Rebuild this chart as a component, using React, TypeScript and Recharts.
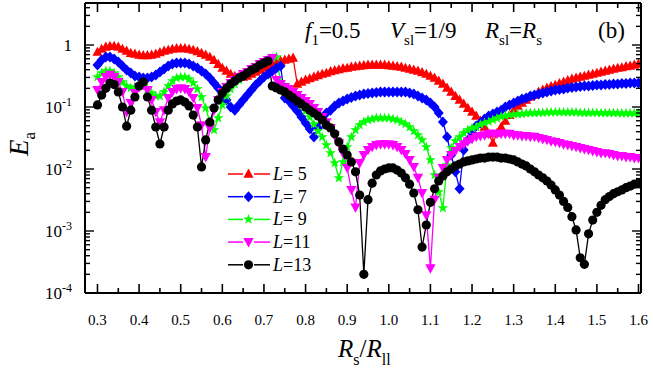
import { LineChart, Line, XAxis, YAxis, Legend } from "recharts";

// R_s / R_ll sampling
const rsRatio: number[] = [
  0.3, 0.31, 0.32, 0.33, 0.34, 0.35, 0.36, 0.37, 0.38, 0.39,
  0.4, 0.41, 0.42, 0.43, 0.44, 0.45, 0.46, 0.47, 0.48, 0.49,
  0.5, 0.51, 0.52, 0.53, 0.54, 0.55, 0.56, 0.57, 0.58, 0.59,
  0.6, 0.61, 0.62, 0.63, 0.64, 0.65, 0.66, 0.67, 0.68, 0.69,
  0.7, 0.71, 0.72, 0.73, 0.74, 0.75, 0.76, 0.77, 0.78, 0.79,
  0.8, 0.81, 0.82, 0.83, 0.84, 0.85, 0.86, 0.87, 0.88, 0.89,
  0.9, 0.91, 0.92, 0.93, 0.94, 0.95, 0.96, 0.97, 0.98, 0.99,
  1.0, 1.01, 1.02, 1.03, 1.04, 1.05, 1.06, 1.07, 1.08, 1.09,
  1.1, 1.11, 1.12, 1.13, 1.14, 1.15, 1.16, 1.17, 1.18, 1.19,
  1.2, 1.21, 1.22, 1.23, 1.24, 1.25, 1.26, 1.27, 1.28, 1.29,
  1.3, 1.31, 1.32, 1.33, 1.34, 1.35, 1.36, 1.37, 1.38, 1.39,
  1.4, 1.41, 1.42, 1.43, 1.44, 1.45, 1.46, 1.47, 1.48, 1.49,
  1.5, 1.51, 1.52, 1.53, 1.54, 1.55, 1.56, 1.57, 1.58, 1.59,
  1.6,
];

const eaL5: number[] = [
  0.77, 0.86, 0.93, 0.96, 0.96, 0.93, 0.86, 0.8, 0.74, 0.72,
  0.69, 0.68, 0.68, 0.69, 0.72, 0.76, 0.8, 0.83, 0.86, 0.88,
  0.88, 0.88, 0.86, 0.83, 0.79, 0.74, 0.69, 0.64, 0.57, 0.49,
  0.425, 0.381, 0.34, 0.316, 0.305, 0.305, 0.316, 0.34, 0.367, 0.395,
  0.425, 0.458, 0.494, 0.522, 0.552, 0.573, 0.595, 0.617, 0.235, 0.253,
  0.273, 0.288, 0.305, 0.322, 0.34, 0.353, 0.374, 0.388, 0.402, 0.418,
  0.425, 0.442, 0.45, 0.46, 0.467, 0.476, 0.476, 0.476, 0.476, 0.476,
  0.467, 0.46, 0.45, 0.442, 0.425, 0.41, 0.395, 0.381, 0.36, 0.34,
  0.316, 0.294, 0.263, 0.235, 0.203, 0.175, 0.15, 0.13, 0.112, 0.096,
  0.083, 0.0716, 0.0595, 0.0476, 0.037, 0.0263, 0.038, 0.0476, 0.0595, 0.074,
  0.089, 0.104, 0.116, 0.13, 0.145, 0.156, 0.175, 0.188, 0.203, 0.214,
  0.226, 0.24, 0.253, 0.268, 0.283, 0.294, 0.305, 0.316, 0.328, 0.34,
  0.353, 0.367, 0.381, 0.395, 0.41, 0.425, 0.433, 0.45, 0.46, 0.476,
  0.494,
];

const eaL7: number[] = [
  0.476, 0.573, 0.64, 0.64, 0.595, 0.532, 0.458, 0.395, 0.353, 0.316,
  0.305, 0.294, 0.294, 0.305, 0.328, 0.367, 0.41, 0.458, 0.494, 0.513,
  0.513, 0.513, 0.494, 0.458, 0.425, 0.381, 0.34, 0.294, 0.244, 0.203,
  0.162, 0.13, 0.1, 0.089, 0.108, 0.13, 0.156, 0.188, 0.226, 0.263,
  0.305, 0.34, 0.381, 0.425, 0.458, 0.14, 0.125, 0.104, 0.086, 0.069,
  0.055, 0.044, 0.0328, 0.0458, 0.064, 0.08, 0.089, 0.104, 0.116, 0.125,
  0.135, 0.142, 0.15, 0.156, 0.162, 0.165, 0.168, 0.171, 0.175, 0.175,
  0.175, 0.175, 0.175, 0.175, 0.175, 0.168, 0.162, 0.15, 0.14, 0.13,
  0.116, 0.1, 0.08, 0.0573, 0.0328, 0.0168, 0.009, 0.0048, 0.0203, 0.0294,
  0.038, 0.0494, 0.055, 0.064, 0.0716, 0.077, 0.083, 0.089, 0.1, 0.108,
  0.116, 0.125, 0.135, 0.14, 0.15, 0.156, 0.162, 0.168, 0.175, 0.181,
  0.188, 0.191, 0.195, 0.203, 0.206, 0.21, 0.214, 0.218, 0.218, 0.222,
  0.226, 0.226, 0.231, 0.231, 0.235, 0.235, 0.24, 0.24, 0.244, 0.244,
  0.244,
];

const eaL9: number[] = [
  0.305, 0.353, 0.381, 0.381, 0.353, 0.305, 0.253, 0.218, 0.203, 0.21,
  0.226, 0.218, 0.195, 0.168, 0.15, 0.15, 0.175, 0.218, 0.263, 0.294,
  0.305, 0.305, 0.283, 0.244, 0.195, 0.145, 0.096, 0.0573, 0.0426, 0.0665,
  0.108, 0.15, 0.195, 0.235, 0.273, 0.316, 0.353, 0.395, 0.442, 0.476,
  0.532, 0.573, 0.617, 0.64, 0.253, 0.218, 0.188, 0.156, 0.13, 0.108,
  0.086, 0.069, 0.0532, 0.041, 0.0328, 0.0244, 0.0181, 0.0125, 0.00716, 0.013,
  0.0226, 0.0328, 0.0426, 0.0513, 0.0573, 0.0617, 0.064, 0.0665, 0.0665, 0.0665,
  0.0665, 0.064, 0.0617, 0.0573, 0.0532, 0.0476, 0.041, 0.0353, 0.0294, 0.0226,
  0.014, 0.008, 0.00426, 0.00235, 0.0116, 0.0218, 0.0283, 0.0328, 0.038, 0.0426,
  0.0458, 0.0476, 0.052, 0.055, 0.058, 0.062, 0.066, 0.07, 0.072, 0.074,
  0.076, 0.077, 0.078, 0.079, 0.08, 0.08, 0.081, 0.081, 0.082, 0.082,
  0.082, 0.082, 0.082, 0.082, 0.082, 0.082, 0.081, 0.081, 0.081, 0.081,
  0.081, 0.08, 0.08, 0.08, 0.08, 0.08, 0.079, 0.079, 0.079, 0.079,
  0.079,
];

const eaL11: number[] = [
  0.188, 0.253, 0.305, 0.33, 0.305, 0.253, 0.175, 0.083, 0.116, 0.168,
  0.21, 0.226, 0.188, 0.13, 0.083, 0.057, 0.089, 0.14, 0.175, 0.195,
  0.2, 0.195, 0.175, 0.14, 0.096, 0.051, 0.0156, 0.046, 0.089, 0.13,
  0.175, 0.21, 0.244, 0.273, 0.305, 0.34, 0.367, 0.41, 0.442, 0.494,
  0.532, 0.573, 0.617, 0.273, 0.235, 0.21, 0.195, 0.175, 0.156, 0.14,
  0.125, 0.112, 0.096, 0.083, 0.069, 0.057, 0.046, 0.035, 0.026, 0.018,
  0.0104, 0.0046, 0.0024, 0.0125, 0.0168, 0.0203, 0.0227, 0.0244, 0.025, 0.025,
  0.025, 0.0244, 0.0227, 0.0203, 0.0175, 0.014, 0.0108, 0.0072, 0.0041, 0.0018,
  0.00025, 0.0032, 0.0072, 0.0104, 0.014, 0.0168, 0.0195, 0.0227, 0.025, 0.028,
  0.0305, 0.033, 0.034, 0.035, 0.037, 0.037, 0.037, 0.037, 0.037, 0.037,
  0.035, 0.035, 0.034, 0.034, 0.033, 0.033, 0.0317, 0.0305, 0.0294, 0.028,
  0.0273, 0.0263, 0.025, 0.0244, 0.0235, 0.0227, 0.0218, 0.021, 0.0203, 0.0195,
  0.0188, 0.018, 0.018, 0.0175, 0.0168, 0.0162, 0.0162, 0.0156, 0.0156, 0.015,
  0.015,
];

const eaL13: number[] = [
  0.108, 0.156, 0.2, 0.244, 0.23, 0.175, 0.1, 0.049, 0.089, 0.145,
  0.218, 0.253, 0.145, 0.089, 0.0476, 0.0253, 0.0476, 0.089, 0.112, 0.125,
  0.13, 0.12, 0.104, 0.074, 0.0476, 0.0108, 0.0294, 0.057, 0.096, 0.13,
  0.168, 0.2, 0.235, 0.263, 0.294, 0.316, 0.353, 0.395, 0.425, 0.476,
  0.513, 0.552, 0.218, 0.203, 0.188, 0.175, 0.156, 0.14, 0.125, 0.112,
  0.1, 0.089, 0.08, 0.0716, 0.0617, 0.051, 0.046, 0.037, 0.0273, 0.021,
  0.0168, 0.013, 0.009, 0.0038, 0.0002, 0.0032, 0.0059, 0.008, 0.0093, 0.01,
  0.0104, 0.0104, 0.0096, 0.0086, 0.0072, 0.0057, 0.0041, 0.0022, 0.00055, 0.00125,
  0.0029, 0.0048, 0.0064, 0.0077, 0.009, 0.01, 0.0112, 0.012, 0.013, 0.0135,
  0.014, 0.0145, 0.015, 0.015, 0.0156, 0.0156, 0.0156, 0.015, 0.015, 0.0145,
  0.014, 0.013, 0.012, 0.0112, 0.01, 0.009, 0.008, 0.0072, 0.0064, 0.0055,
  0.0046, 0.0038, 0.003, 0.0024, 0.0017, 0.00104, 0.00037, 0.00029, 0.0009, 0.0015,
  0.002, 0.0026, 0.0032, 0.0036, 0.004, 0.0043, 0.0046, 0.005, 0.0053, 0.0057,
  0.0059,
];

const xTicks: number[] = [
  0.3, 0.35, 0.4, 0.45, 0.5, 0.55, 0.6, 0.65, 0.7, 0.75, 0.8, 0.85, 0.9, 0.95,
  1.0, 1.05, 1.1, 1.15, 1.2, 1.25, 1.3, 1.35, 1.4, 1.45, 1.5, 1.55, 1.6,
];
const xTickLabels: string[] = [
  "0.3", "0.4", "0.5", "0.6", "0.7", "0.8", "0.9", "1.0", "1.1", "1.2", "1.3", "1.4", "1.5", "1.6",
];
const yMajorTicks: number[] = [1e-4, 1e-3, 1e-2, 1e-1, 1];
const yMinorSteps: number[] = [2, 3, 4, 5, 6, 7, 8, 9];

const series = [
  { key: "L5", name: "5", color: "#ff0000", shape: "triUp", values: eaL5 },
  { key: "L7", name: "7", color: "#0000ff", shape: "diamond", values: eaL7 },
  { key: "L9", name: "9", color: "#00ff00", shape: "star", values: eaL9 },
  { key: "L11", name: "11", color: "#ff00ff", shape: "triDown", values: eaL11 },
  { key: "L13", name: "13", color: "#000000", shape: "circle", values: eaL13 },
];

const W = 653;
const H = 374;
const PLOT = { left: 85, right: 641, top: 3, bottom: 293 };
const FONT = "'Liberation Serif', 'Times New Roman', serif";

const yTicks: number[] = [];
yMajorTicks.forEach((d) => {
  yTicks.push(d);
  yMinorSteps.forEach((m) => {
    if (m * d < 4.7) yTicks.push(m * d);
  });
});

const data = rsRatio.map((x, i) => {
  const row: Record<string, number> = { x };
  series.forEach((s) => (row[s.key] = s.values[i]));
  return row;
});

const Marker = ({ cx, cy, shape, color }: { cx: number; cy: number; shape: string; color: string }) => {
  if (cx == null || cy == null || isNaN(cx) || isNaN(cy)) return null;
  if (shape === "circle") return <circle cx={cx} cy={cy} r={4.6} fill={color} />;
  let pts = "";
  if (shape === "triUp") pts = `${cx},${cy - 5.4} ${cx + 5},${cy + 3.8} ${cx - 5},${cy + 3.8}`;
  if (shape === "triDown") pts = `${cx},${cy + 5.4} ${cx + 5.2},${cy - 4} ${cx - 5.2},${cy - 4}`;
  if (shape === "diamond") pts = `${cx},${cy - 5.5} ${cx + 5},${cy} ${cx},${cy + 5.5} ${cx - 5},${cy}`;
  if (shape === "star") {
    const p: string[] = [];
    for (let k = 0; k < 10; k++) {
      const r = k % 2 === 0 ? 5.5 : 2.2;
      const a = -Math.PI / 2 + (k * Math.PI) / 5;
      p.push(`${cx + r * Math.cos(a)},${cy + r * Math.sin(a)}`);
    }
    pts = p.join(" ");
  }
  return <polygon points={pts} fill={color} />;
};

const XTick = (props: any) => {
  const { x, payload } = props;
  const idx = xTicks.indexOf(payload.value);
  const major = idx % 2 === 0;
  const len = major ? 9 : 5;
  return (
    <g>
      <line x1={x} x2={x} y1={PLOT.bottom} y2={PLOT.bottom - len} stroke="#000" strokeWidth={1.6} />
      <line x1={x} x2={x} y1={PLOT.top} y2={PLOT.top + len} stroke="#000" strokeWidth={1.6} />
      {major && (
        <text x={x} y={PLOT.bottom + 32} textAnchor="middle" fontSize={15} fontFamily={FONT} fill="#000">
          {xTickLabels[idx / 2]}
        </text>
      )}
    </g>
  );
};

const YTick = (props: any) => {
  const { y, payload } = props;
  const v = payload.value;
  const major = yMajorTicks.includes(v);
  const len = major ? 9 : 5;
  const exp = Math.round(Math.log10(v));
  return (
    <g>
      <line x1={PLOT.left} x2={PLOT.left + len} y1={y} y2={y} stroke="#000" strokeWidth={1.4} />
      <line x1={PLOT.right} x2={PLOT.right - len} y1={y} y2={y} stroke="#000" strokeWidth={1.4} />
      {major && (
        <text x={PLOT.left - 13} y={y + 6} textAnchor="end" fontSize={17} fontFamily={FONT} fill="#000">
          {exp === 0 ? (
            "1"
          ) : (
            <>
              10<tspan fontSize={12} dy={-7}>{exp}</tspan>
            </>
          )}
        </text>
      )}
    </g>
  );
};

const LegendBox = () => (
  <svg width={130} height={115} style={{ overflow: "visible" }}>
    {series.map((s, i) => {
      const y = 11 + i * 22.7;
      return (
        <g key={s.key}>
          <line x1={4} x2={19} y1={y} y2={y} stroke={s.color} strokeWidth={1.5} />
          <line x1={30} x2={46} y1={y} y2={y} stroke={s.color} strokeWidth={1.5} />
          <Marker cx={24.5} cy={y} shape={s.shape} color={s.color} />
          <text x={49} y={y + 6} fontSize={18} fontFamily={FONT} fill="#000">
            <tspan fontStyle="italic">L</tspan>
            {s.name.length === 1 ? "= " + s.name : "=" + s.name}
          </text>
        </g>
      );
    })}
  </svg>
);

export default function App() {
  return (
    <div style={{ position: "absolute", left: 0, top: 0, width: W, height: H, background: "#fff" }}>
      <LineChart width={W} height={H} data={data} margin={{ top: PLOT.top, right: W - PLOT.right, bottom: 0, left: 0 }}>
        <XAxis
          dataKey="x"
          type="number"
          domain={[0.27, 1.606]}
          allowDataOverflow
          ticks={xTicks}
          interval={0}
          tickLine={false}
          axisLine={{ stroke: "#000", strokeWidth: 2 }}
          tick={<XTick />}
          height={H - PLOT.bottom}
        />
        <YAxis
          type="number"
          scale="log"
          domain={[1e-4, 4.76]}
          allowDataOverflow
          ticks={yTicks}
          interval={0}
          tickLine={false}
          axisLine={{ stroke: "#000", strokeWidth: 2 }}
          tick={<YTick />}
          width={PLOT.left}
        />
        {series.map((s) => (
          <Line
            key={s.key}
            dataKey={s.key}
            type="linear"
            stroke={s.color}
            strokeWidth={1.3}
            isAnimationActive={false}
            activeDot={false}
            dot={(p: any) => <Marker key={`${s.key}-${p.index}`} cx={p.cx} cy={p.cy} shape={s.shape} color={s.color} />}
          />
        ))}
        <Legend
          layout="vertical"
          align="center"
          verticalAlign="middle"
          content={() => <LegendBox />}
          wrapperStyle={{ left: 224, top: 163, width: 130, height: 115 }}
        />
      </LineChart>
      <svg width={W} height={H} style={{ position: "absolute", left: 0, top: 0, pointerEvents: "none" }}>
        <line x1={PLOT.left} x2={PLOT.right} y1={PLOT.top} y2={PLOT.top} stroke="#000" strokeWidth={2} />
        <line x1={PLOT.right} x2={PLOT.right} y1={PLOT.top} y2={PLOT.bottom} stroke="#000" strokeWidth={2} />
        <g transform="translate(28,156) rotate(-90)">
          <text x={0} y={0} fontSize={27} fontFamily={FONT} fill="#000">
            <tspan fontStyle="italic">E</tspan>
            <tspan fontSize={17} dy={7}>a</tspan>
          </text>
        </g>
        <text x={338} y={357} fontSize={25} fontFamily={FONT} fill="#000">
          <tspan fontStyle="italic">R</tspan>
          <tspan fontSize={16} dy={8}>s</tspan>
          <tspan dy={-8}>/</tspan>
          <tspan fontStyle="italic">R</tspan>
          <tspan fontSize={16} dy={8}>ll</tspan>
        </text>
        <text x={305} y={38} fontSize={23} fontFamily={FONT} fill="#000">
          <tspan fontStyle="italic">f</tspan>
          <tspan fontSize={15} dy={7}>1</tspan>
          <tspan dy={-7}>=0.5</tspan>
        </text>
        <text x={390} y={38} fontSize={23} fontFamily={FONT} fill="#000">
          <tspan fontStyle="italic">V</tspan>
          <tspan fontSize={15} dy={7}>sl</tspan>
          <tspan dy={-7}>=1/9</tspan>
        </text>
        <text x={485} y={38} fontSize={23} fontFamily={FONT} fill="#000">
          <tspan fontStyle="italic">R</tspan>
          <tspan fontSize={15} dy={7}>sl</tspan>
          <tspan dy={-7}>=</tspan>
          <tspan fontStyle="italic">R</tspan>
          <tspan fontSize={15} dy={7}>s</tspan>
        </text>
        <text x={598} y={38} fontSize={23} fontFamily={FONT} fill="#000">(b)</text>
      </svg>
    </div>
  );
}
